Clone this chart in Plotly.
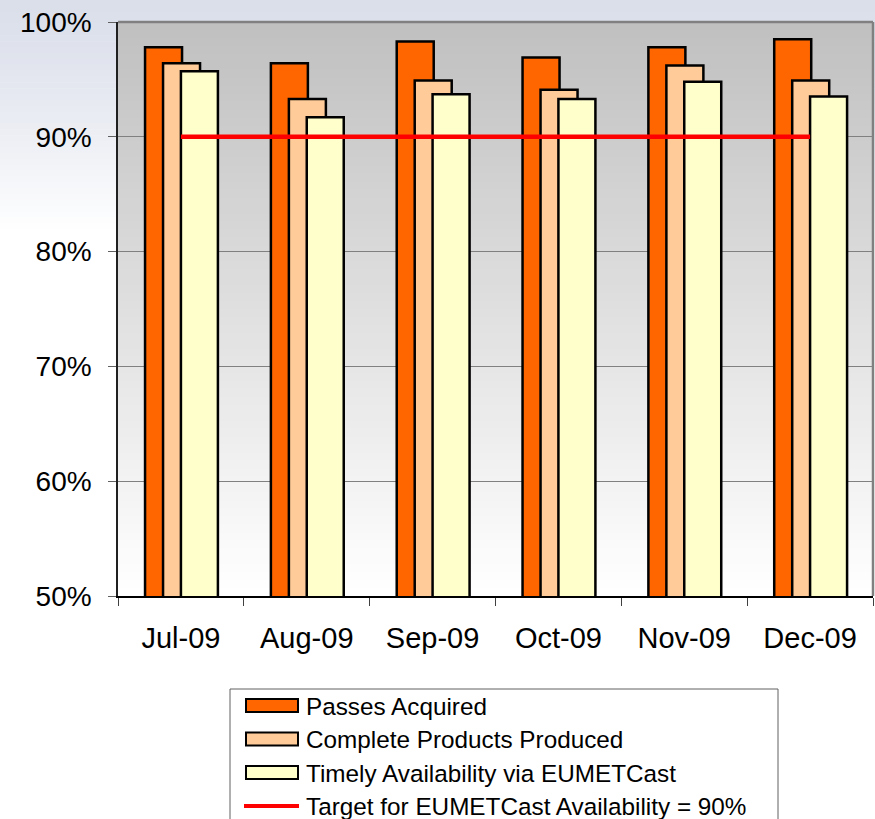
import plotly.graph_objects as go

# ---- data -------------------------------------------------------------
months = ["Jul-09", "Aug-09", "Sep-09", "Oct-09", "Nov-09", "Dec-09"]
passes_acquired = [97.8, 96.4, 98.3, 96.9, 97.8, 98.5]
complete_products = [96.4, 93.3, 94.9, 94.1, 96.2, 94.9]
timely_availability = [95.7, 91.7, 93.7, 93.3, 94.8, 93.5]
target = [90, 90, 90, 90, 90, 90]

series_names = [
    "Passes Acquired",
    "Complete Products Produced",
    "Timely Availability via EUMETCast",
    "Target for EUMETCast Availability = 90%",
]
y_tick_values = [50, 60, 70, 80, 90, 100]
y_tick_labels = ["50%", "60%", "70%", "80%", "90%", "100%"]

# ---- geometry (pixels) ----------------------------------------------
W, H = 875, 819
ML, MR, MT, MB = 118, 2, 22, 223
PW, PH = W - ML - MR, H - MT - MB

FONT = "Liberation Sans, Arial, sans-serif"
ORANGE, PEACH, CREAM, RED = "#FF6600", "#FFCC99", "#FFFFCC", "#FF0000"


def px(x):
    return (x - ML) / PW


def py(y):
    return (H - MB - y) / PH


def mix(c1, c2, t):
    return "rgb(%d,%d,%d)" % tuple(round(a + (b - a) * t) for a, b in zip(c1, c2))


fig = go.Figure()

bar_w = 0.294
bar_specs = [
    (series_names[0], passes_acquired, ORANGE, -0.285),
    (series_names[1], complete_products, PEACH, -0.142),
    (series_names[2], timely_availability, CREAM, 0.0),
]
for name, vals, color, off in bar_specs:
    fig.add_trace(go.Bar(
        x=months, y=vals, name=name,
        width=bar_w, offset=off,
        marker=dict(color=color, line=dict(color="black", width=2.5)),
        showlegend=False,
    ))

fig.add_trace(go.Scatter(
    x=months, y=target, name=series_names[3], mode="lines",
    line=dict(color=RED, width=4.5), showlegend=False,
))

shapes = []

# page background: soft blue-grey fading into white towards the top
top_c, low_c = (219, 223, 234), (255, 255, 255)
n = 40
band_top, band_bot = 0, 235
for i in range(n):
    y0 = band_top + (band_bot - band_top) * i / n
    y1 = band_top + (band_bot - band_top) * (i + 1) / n + 0.5
    t = (i / (n - 1)) ** 1.3
    shapes.append(dict(
        type="rect", xref="paper", yref="paper", layer="below",
        x0=px(0), x1=px(W), y0=py(y1), y1=py(y0),
        fillcolor=mix(top_c, low_c, t), line=dict(width=0),
    ))

# plot area: grey at the top fading to white at the bottom
g_top, g_bot = (192, 192, 192), (255, 255, 255)
m = 72
for i in range(m):
    shapes.append(dict(
        type="rect", xref="paper", yref="paper", layer="below",
        x0=0, x1=1, y0=1 - (i + 1) / m - 0.002, y1=1 - i / m,
        fillcolor=mix(g_top, g_bot, i / (m - 1)), line=dict(width=0),
    ))

# top and right frame of the plot area
shapes.append(dict(type="line", xref="paper", yref="paper", x0=0, x1=1, y0=1, y1=1,
                   line=dict(color="#808080", width=2.5)))
shapes.append(dict(type="line", xref="paper", yref="paper", x0=1, x1=1, y0=0, y1=1,
                   line=dict(color="#808080", width=2.5)))

# legend box
LX0, LX1, LY0, LY1 = 230, 778, 689, 840
shapes.append(dict(type="rect", xref="paper", yref="paper",
                   x0=px(LX0), x1=px(LX1), y0=py(LY1), y1=py(LY0),
                   fillcolor="white", line=dict(color="#606060", width=1)))

row_y = [705.5, 739, 772.5, 806]
sym_x0, sym_x1, text_x = 246, 298, 304
annotations = []
for k, (name, color) in enumerate(zip(series_names, [ORANGE, PEACH, CREAM, RED])):
    yc = row_y[k]
    if k < 3:
        shapes.append(dict(type="rect", xref="paper", yref="paper",
                           x0=px(sym_x0), x1=px(sym_x1), y0=py(yc + 6.5), y1=py(yc - 6.5),
                           fillcolor=color, line=dict(color="black", width=2)))
    else:
        shapes.append(dict(type="line", xref="paper", yref="paper",
                           x0=px(sym_x0 - 2), x1=px(sym_x1 + 1), y0=py(yc), y1=py(yc),
                           line=dict(color=RED, width=4)))
    annotations.append(dict(
        text=name, xref="paper", yref="paper", x=px(text_x), y=py(yc + 0.5),
        xanchor="left", yanchor="middle", showarrow=False,
        font=dict(family=FONT, size=24.3, color="black"),
    ))

fig.update_layout(
    width=W, height=H,
    margin=dict(l=ML, r=MR, t=MT, b=MB, pad=0),
    paper_bgcolor="white",
    plot_bgcolor="rgba(0,0,0,0)",
    barmode="overlay",
    showlegend=False,
    shapes=shapes,
    annotations=annotations,
    font=dict(family=FONT, size=28, color="black"),
    xaxis=dict(
        type="category", categoryorder="array", categoryarray=months,
        range=[-0.5, len(months) - 0.5],
        showline=True, linecolor="black", linewidth=1.5,
        ticks="outside", tickson="boundaries", ticklen=8, tickcolor="#404040",
        tickwidth=1, showgrid=False,
        tickfont=dict(family=FONT, size=29, color="black"),
        ticklabelstandoff=15,
    ),
    yaxis=dict(
        range=[50, 100], tickmode="array",
        tickvals=y_tick_values, ticktext=y_tick_labels,
        showline=True, linecolor="#202020", linewidth=1.5,
        ticks="outside", ticklen=8, tickcolor="#606060", tickwidth=1,
        showgrid=True, gridcolor="#808080", gridwidth=1,
        zeroline=False,
        tickfont=dict(family=FONT, size=28, color="black"),
        ticklabelstandoff=11,
    ),
)

fig.write_html("out.html")
